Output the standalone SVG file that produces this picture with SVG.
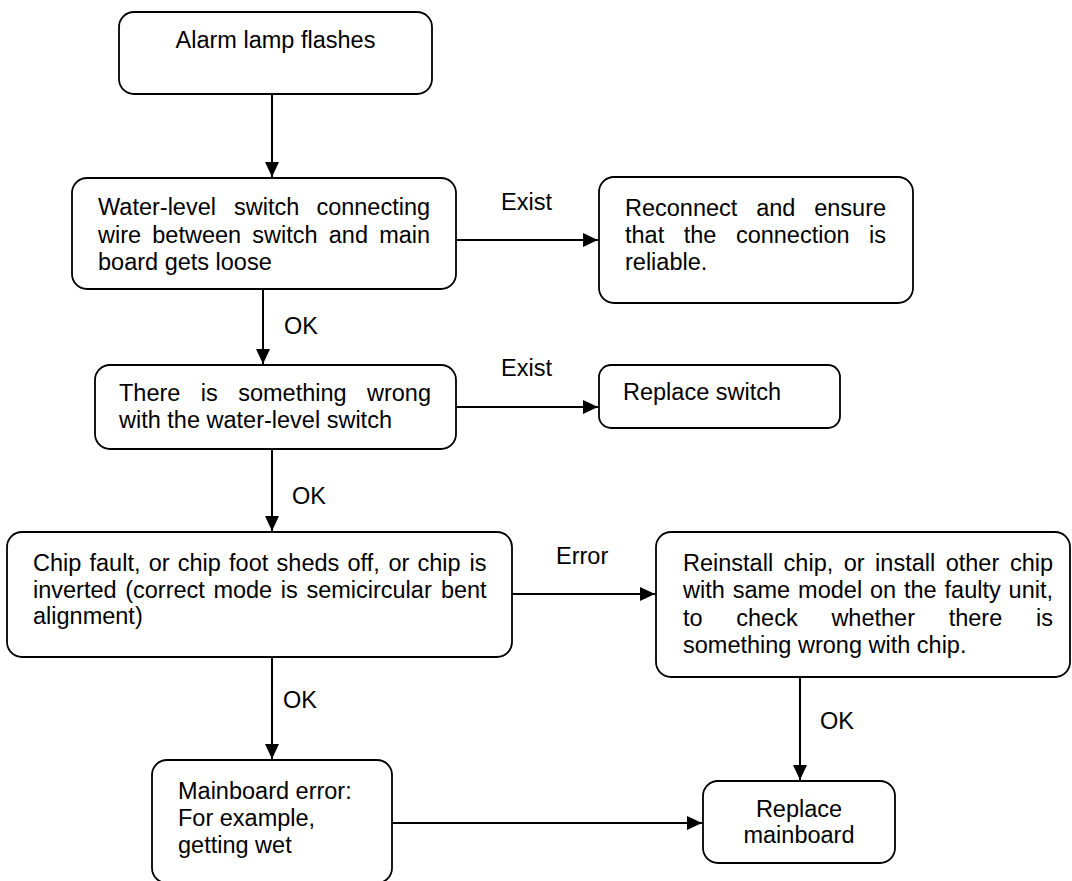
<svg xmlns="http://www.w3.org/2000/svg" width="1072" height="881" viewBox="0 0 1072 881">
<style>
.box{fill:#fff;stroke:#000;stroke-width:1.8}
.t{font-family:"Liberation Sans",Arial,sans-serif;font-size:23.5px;fill:#000}
.c{stroke:#000;stroke-width:2;fill:none}
.m{text-anchor:middle}
</style>
<defs>
<marker id="ah" markerUnits="userSpaceOnUse" markerWidth="16" markerHeight="15" refX="15" refY="7" orient="auto">
<path d="M0,0 L15,7 L0,14 z" fill="#000"/>
</marker>
</defs>
<rect width="1072" height="881" fill="#fff"/>
<g id="connectors">
<line class="c" x1="272" y1="94" x2="272" y2="177" marker-end="url(#ah)"/>
<line class="c" x1="456" y1="240" x2="598" y2="240" marker-end="url(#ah)"/>
<line class="c" x1="263" y1="289" x2="263" y2="364" marker-end="url(#ah)"/>
<line class="c" x1="456" y1="407" x2="598" y2="407" marker-end="url(#ah)"/>
<line class="c" x1="272" y1="449" x2="272" y2="531" marker-end="url(#ah)"/>
<line class="c" x1="512" y1="594" x2="655" y2="594" marker-end="url(#ah)"/>
<line class="c" x1="272" y1="657" x2="272" y2="759" marker-end="url(#ah)"/>
<line class="c" x1="800" y1="677" x2="800" y2="780" marker-end="url(#ah)"/>
<line class="c" x1="392" y1="823" x2="702" y2="823" marker-end="url(#ah)"/>
<text class="t" x="501" y="210">Exist</text>
<text class="t" x="501" y="376">Exist</text>
<text class="t" x="284" y="334">OK</text>
<text class="t" x="292" y="504">OK</text>
<text class="t" x="556" y="564">Error</text>
<text class="t" x="283" y="708">OK</text>
<text class="t" x="820" y="729">OK</text>
</g>
<g id="n1">
<rect class="box" x="119" y="12" width="313" height="82" rx="15"/>
<text class="t m" x="275.5" y="48">Alarm lamp flashes</text>
</g>
<g id="n2">
<rect class="box" x="72" y="178" width="384" height="111" rx="15"/>
<text class="t" y="215"><tspan x="98">Water-level</tspan><tspan x="234">switch</tspan><tspan x="316.4">connecting</tspan></text>
<text class="t" y="242.5"><tspan x="98">wire</tspan><tspan x="152.3">between</tspan><tspan x="252.3">switch</tspan><tspan x="328.8">and</tspan><tspan x="379.2">main</tspan></text>
<text class="t" x="98" y="270">board gets loose</text>
</g>
<g id="n3">
<rect class="box" x="599" y="177" width="314" height="126" rx="15"/>
<text class="t" y="216"><tspan x="625">Reconnect</tspan><tspan x="756.2">and</tspan><tspan x="814.2">ensure</tspan></text>
<text class="t" y="243"><tspan x="625">that</tspan><tspan x="683.7">the</tspan><tspan x="735.9">connection</tspan><tspan x="869">is</tspan></text>
<text class="t" x="625" y="270">reliable.</text>
</g>
<g id="n4">
<rect class="box" x="599" y="365" width="241" height="63" rx="12"/>
<text class="t" x="623" y="400">Replace switch</text>
</g>
<g id="n5">
<rect class="box" x="95" y="365" width="361" height="84" rx="15"/>
<text class="t" y="401"><tspan x="119">There</tspan><tspan x="200.8">is</tspan><tspan x="238.2">something</tspan><tspan x="367">wrong</tspan></text>
<text class="t" x="119" y="428">with the water-level switch</text>
</g>
<g id="n6">
<rect class="box" x="7" y="532" width="505" height="125" rx="15"/>
<text class="t" y="571"><tspan x="33">Chip</tspan><tspan x="89.5">fault,</tspan><tspan x="148.7">or</tspan><tspan x="177.8">chip</tspan><tspan x="229.1">foot</tspan><tspan x="276.6">sheds</tspan><tspan x="347.5">off,</tspan><tspan x="388.4">or</tspan><tspan x="417.5">chip</tspan><tspan x="469.6">is</tspan></text>
<text class="t" y="598"><tspan x="33">inverted</tspan><tspan x="125.2">(correct</tspan><tspan x="213.4">mode</tspan><tspan x="280.8">is</tspan><tspan x="306.4">semicircular</tspan><tspan x="440.9">bent</tspan></text>
<text class="t" x="33" y="624">alignment)</text>
</g>
<g id="n7">
<rect class="box" x="152" y="760" width="240" height="123" rx="15"/>
<text class="t" x="178" y="799">Mainboard error:</text>
<text class="t" x="178" y="826">For example,</text>
<text class="t" x="178" y="853">getting wet</text>
</g>
<g id="n8">
<rect class="box" x="703" y="781" width="192" height="82" rx="15"/>
<text class="t m" x="799" y="817">Replace</text>
<text class="t m" x="799" y="843">mainboard</text>
</g>
<g id="n9">
<rect class="box" x="656" y="532" width="414" height="145" rx="15"/>
<text class="t" y="571"><tspan x="683">Reinstall</tspan><tspan x="783.6">chip,</tspan><tspan x="843.7">or</tspan><tspan x="875.1">install</tspan><tspan x="945.7">other</tspan><tspan x="1009.9">chip</tspan></text>
<text class="t" y="598"><tspan x="683">with</tspan><tspan x="732.7">same</tspan><tspan x="798.1">model</tspan><tspan x="870">on</tspan><tspan x="904">the</tspan><tspan x="944.6">faulty</tspan><tspan x="1008.6">unit,</tspan></text>
<text class="t" y="626"><tspan x="683">to</tspan><tspan x="736.3">check</tspan><tspan x="831.4">whether</tspan><tspan x="948.7">there</tspan><tspan x="1036">is</tspan></text>
<text class="t" x="683" y="653">something wrong with chip.</text>
</g>
</svg>
